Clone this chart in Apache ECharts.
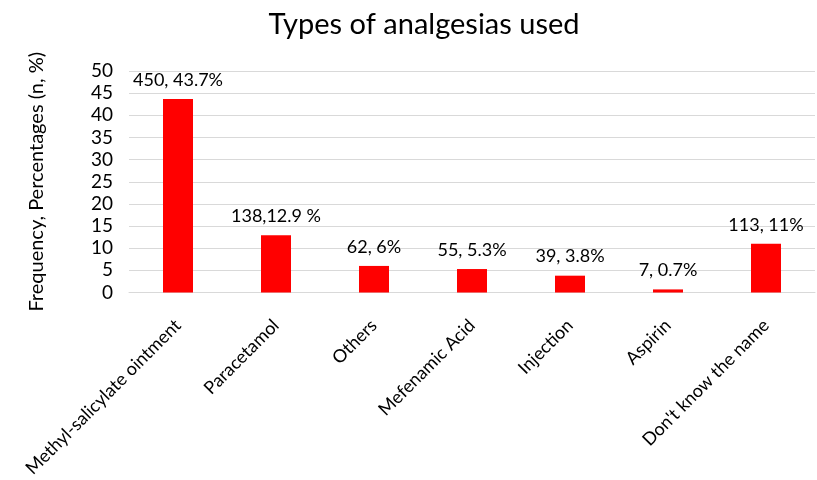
<!DOCTYPE html>
<html>
<head>
<meta charset="utf-8">
<script src="https://cdn.jsdelivr.net/npm/echarts@6/dist/echarts.min.js"></script>
<style>
  html, body { margin: 0; padding: 0; background: #fff; }
  #chart { width: 817px; height: 480px; }
</style>
</head>
<body>
<div id="chart"></div>
<script>
// data
const categories = ['Methyl-salicylate ointment', 'Paracetamol', 'Others', 'Mefenamic Acid', 'Injection', 'Aspirin', "Don't know the name"]
const percentages = [43.7, 12.9, 6, 5.3, 3.8, 0.7, 11]
const labelTexts = ['450, 43.7%', '138,12.9 %', '62, 6%', '55, 5.3%', '39, 3.8%', '7, 0.7%', '113, 11%']
const yTicks = [0, 5, 10, 15, 20, 25, 30, 35, 40, 45, 50]

const font = 'Lato, "Open Sans", sans-serif'

var myChart = echarts.init(document.getElementById('chart'))
var option = {
  backgroundColor: '#fff',
  animation: false,
  title: {
    text: 'Types of analgesias used',
    left: 419,
    textAlign: 'center',
    top: 5,
    textStyle: { fontFamily: font, fontSize: 29, fontWeight: 'normal', color: '#000' }
  },
  grid: { left: 129, right: 2, top: 71, bottom: 187, containLabel: false },
  xAxis: {
    type: 'category',
    data: categories,
    axisLine: { show: true, lineStyle: { color: '#d9d9d9', width: 1 } },
    axisTick: { show: false },
    axisLabel: {
      interval: 0,
      rotate: 45,
      margin: 30,
      fontFamily: font,
      fontSize: 18,
      color: '#000'
    }
  },
  yAxis: {
    type: 'value',
    min: yTicks[0],
    max: yTicks[yTicks.length - 1],
    interval: 5,
    name: 'Frequency, Percentages (n, %)',
    nameLocation: 'middle',
    nameGap: 82,
    nameTextStyle: { fontFamily: font, fontSize: 20, color: '#000' },
    axisLine: { show: false },
    axisTick: { show: false },
    axisLabel: { fontFamily: font, fontSize: 19, color: '#000', margin: 16 },
    splitLine: { lineStyle: { color: '#d9d9d9', width: 1 } }
  },
  series: [{
    type: 'bar',
    data: percentages,
    barWidth: 30,
    itemStyle: { color: '#ff0000' },
    label: {
      show: true,
      position: 'top',
      distance: 10,
      fontFamily: font,
      fontSize: 18,
      color: '#000',
      formatter: function (p) { return labelTexts[p.dataIndex] }
    }
  }]
}
myChart.setOption(option)
</script>
</body>
</html>
